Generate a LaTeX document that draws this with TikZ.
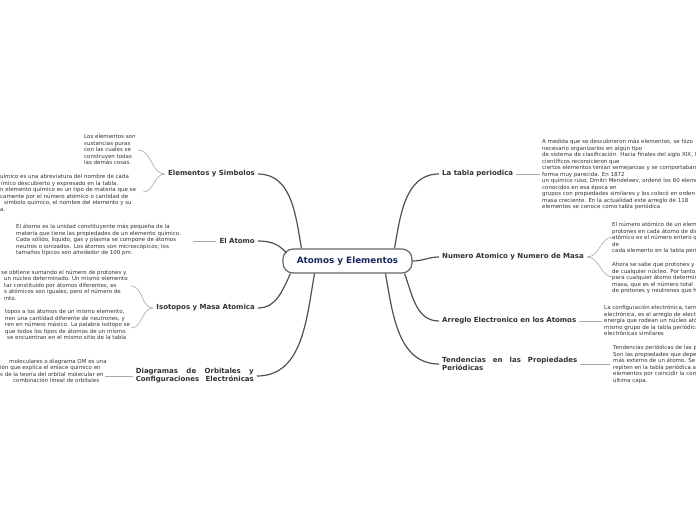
\documentclass[tikz,border=0pt]{standalone}
\usepackage{fontspec}
\setmainfont{DejaVu Sans}
\usetikzlibrary{calc}
\definecolor{txt}{HTML}{333333}
\definecolor{navy}{HTML}{1B2A5C}
\definecolor{mainln}{HTML}{505050}
\definecolor{subln}{HTML}{A8A8A8}
\definecolor{boxln}{HTML}{666666}
\begin{document}
\begin{tikzpicture}[x=1pt,y=1pt,
  mainc/.style={draw=mainln, line width=1.2pt},
  subc/.style={draw=subln, line width=0.6pt},
  lab/.style={font=\fontsize{7}{8}\selectfont\bfseries, text=txt, inner xsep=3pt, inner ysep=2pt, fill=white},
  child/.style={font=\fontsize{5.5}{6.5}\selectfont, text=txt, align=left, inner sep=0pt, anchor=north west},
  root/.style={draw=boxln, line width=1.2pt, rounded corners=10pt, fill=white, minimum width=129pt, minimum height=24pt, font=\fontsize{8.8}{10}\selectfont\bfseries, text=navy}]
\useasboundingbox (0,0) rectangle (696,-520);

% central topic
\node[root] (root) at (347.5,-261) {Atomos y Elementos};

% main topics, left
\node[lab, anchor=east] (elem) at (258,-174) {Elementos y Simbolos};
\node[lab, anchor=east] (atomo) at (258,-241) {El Atomo};
\node[lab, anchor=east] (isot) at (258,-308) {Isotopos y Masa Atomica};
\node[lab, anchor=east, align=left] (diag) at (257,-376) {\makebox[118pt][s]{Diagramas de Orbitales y}\\\makebox[118pt][s]{Configuraciones Electrónicas}};

% main topics, right
\node[lab, anchor=west] (tabla) at (439,-174) {La tabla periodica};
\node[lab, anchor=west] (numero) at (439,-257) {Numero Atomico y Numero de Masa};
\node[lab, anchor=west] (arreglo) at (439,-321) {Arreglo Electronico en los Atomos};
\node[lab, anchor=west, align=left] (tend) at (439,-364) {\makebox[135pt][s]{Tendencias en las Propiedades}\\Periódicas};

% main connectors
\draw[mainc] (elem.east) to[out=0,in=100] ($(root.north)+(-46,0)$);
\draw[mainc] (atomo.east) to[out=0,in=130] ($(root.west)+(4,8)$);
\draw[mainc] (isot.east) to[out=0,in=245] ($(root.south west)+(8,0)$);
\draw[mainc] (diag.east) to[out=0,in=260] ($(root.south)+(-33,0)$);
\draw[mainc] (tabla.west) to[out=180,in=80] ($(root.north)+(47,0)$);
\draw[mainc] (numero.west) to[out=180,in=0] (root.east);
\draw[mainc] (arreglo.west) to[out=180,in=290] ($(root.south east)+(-8,0)$);
\draw[mainc] (tend.west) to[out=180,in=280] ($(root.south)+(38,0)$);

% child texts, left
\node[child] (t1) at (84,-134.5) {Los elementos son\\sustancias puras\\con las cuales se\\construyen todas\\las demás cosas.};
\node[child] (tA) at (0,-174) {uímico es una abreviatura del nombre de cada\\\hspace*{1pt}ímico descubierto y expresado en la tabla.\\n elemento químico es un tipo de materia que se\\camente por el número atómico o cantidad de\\\hspace*{4pt}símbolo químico, el nombre del elemento y su\\a.};
\node[child] (tB) at (16,-224) {El átomo es la unidad constituyente más pequeña de la\\materia que tiene las propiedades de un elemento químico.\\Cada sólido, líquido, gas y plasma se compone de átomos\\neutros o ionizados. Los átomos son microscópicos; los\\tamaños típicos son alrededor de 100 pm.};
\node[child] (tC) at (0,-269.5) {\hspace*{1pt}se obtiene sumando el número de protones y\\\hspace*{4pt}un núcleo determinado. Un mismo elemento\\\hspace*{4pt}tar constituido por átomos diferentes, es\\\hspace*{4pt}s atómicos son iguales, pero el número de\\\hspace*{4pt}into.};
\node[child] (tD) at (0,-309) {\hspace*{5pt}topos a los átomos de un mismo elemento,\\\hspace*{5pt}nen una cantidad diferente de neutrones, y\\\hspace*{5pt}ren en número másico. La palabra isótopo se\\\hspace*{5pt}que todos los tipos de átomos de un mismo\\\hspace*{7pt}se encuentran en el mismo sitio de la tabla};
\node[child] (tE) at (0,-359) {\hspace*{9pt}moleculares o diagrama OM es una\\ión que explica el enlace químico en\\s de la teoría del orbital molecular en\\\hspace*{13pt}combinación lineal de orbitales};

% child texts, right
\node[child] (tF) at (542,-139) {A medida que se descubrieron más elementos, se hizo\\necesario organizarlos en algún tipo\\de sistema de clasificación. Hacia finales del siglo XIX, los\\científicos reconocieron que\\ciertos elementos tenían semejanzas y se comportaban de\\forma muy parecida. En 1872\\un químico ruso, Dmitri Mendeleev, ordenó los 60 elementos\\conocidos en esa época en\\grupos con propiedades similares y los colocó en orden de\\masa creciente. En la actualidad este arreglo de 118\\elementos se conoce como tabla periódica};
\node[child] (tG1) at (612,-222) {El número atómico de un elemento es el número de\\protones en cada átomo de dicho elemento. El número\\atómico es el número entero que aparece arriba del símbolo\\de\\cada elemento en la tabla periódica.};
\node[child] (tG2) at (612,-262) {Ahora se sabe que protones y neutrones forman el núcleo\\de cualquier núcleo. Por tanto, el número de masa\\para cualquier átomo determinado es el número de\\masa, que es el número total\\de protones y neutrones que hay en el núcleo.};
\node[child] (tH) at (604,-305) {La configuración electrónica, también llamada estructura\\electrónica, es el arreglo de electrones en los niveles de\\energía que rodean un núcleo atómico. Los átomos del\\mismo grupo de la tabla periódica tienen configuraciones\\electrónicas similares};
\node[child] (tI) at (613,-345) {Tendencias periódicas de las propiedades\\Son las propiedades que dependen del electrón\\más externo de un átomo. Se\\repiten en la tabla periódica a lo largo de los\\elementos por coincidir la configuración de su\\última capa.};

% attachment points of the sub connectors
\coordinate (e1) at (138,-150);
\coordinate (e2) at (143,-192);
\coordinate (a1) at (193,-241);
\coordinate (i1) at (131,-286);
\coordinate (i2) at (131,-328);
\coordinate (d1) at (105,-376);
\coordinate (p1) at (540,-174);
\coordinate (n1) at (613,-237);
\coordinate (n2) at (613,-277);
\coordinate (r1) at (602,-321);
\coordinate (q1) at (610,-364);

% sub connectors
\draw[subc] (elem.west) to[out=180,in=0] (e1);
\draw[subc] (elem.west) to[out=180,in=0] (e2);
\draw[subc] (atomo.west) -- (a1);
\draw[subc] (isot.west) to[out=180,in=0] (i1);
\draw[subc] (isot.west) to[out=180,in=0] (i2);
\draw[subc] (diag.west) -- (d1);
\draw[subc] (tabla.east) -- (p1);
\draw[subc] (numero.east) to[out=0,in=180] (n1);
\draw[subc] (numero.east) to[out=0,in=180] (n2);
\draw[subc] (arreglo.east) -- (r1);
\draw[subc] (tend.east) -- (q1);
\end{tikzpicture}
\end{document}
